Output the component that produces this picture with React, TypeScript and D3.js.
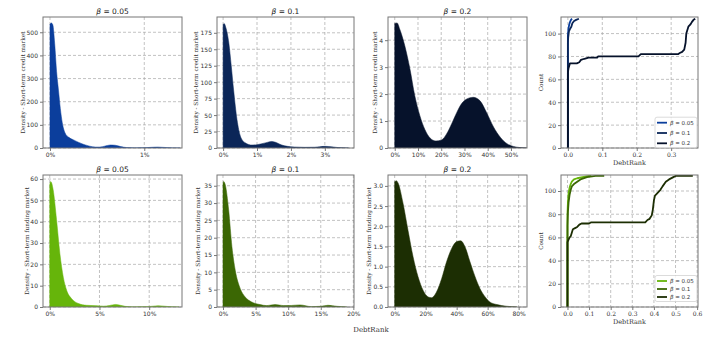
import React, { useRef, useEffect } from 'react';
import * as d3 from 'd3';

// density curves, x in % of DebtRank
const creditB005: [number, number][] = [[0, 535], [0.015, 540], [0.03, 532], [0.05, 450], [0.07, 330], [0.09, 250], [0.11, 170], [0.13, 110], [0.16, 65], [0.2, 46], [0.25, 35], [0.3, 25], [0.36, 15], [0.42, 8], [0.48, 4], [0.53, 4], [0.58, 8], [0.64, 13], [0.69, 12], [0.75, 6], [0.81, 2], [0.9, 0.5], [1.0, 1], [1.08, 3], [1.14, 4], [1.21, 2.5], [1.3, 0.5], [1.38, 0]];
const creditB01: [number, number][] = [[0, 187], [0.03, 189], [0.08, 183], [0.17, 159], [0.24, 125], [0.31, 88], [0.41, 43], [0.51, 18], [0.65, 8], [0.85, 4.5], [1.0, 5], [1.14, 6.5], [1.3, 8.5], [1.44, 10], [1.58, 8], [1.73, 4.5], [1.9, 2.5], [2.1, 1.5], [2.4, 1], [2.7, 1.2], [3.0, 2.5], [3.2, 1.8], [3.4, 0.6], [3.7, 0]];
const creditB02: [number, number][] = [[0, 4.62], [1, 4.64], [2.2, 4.4], [4.3, 3.8], [6.5, 2.95], [8.6, 1.95], [10.8, 1.2], [13, 0.68], [15.1, 0.38], [17.7, 0.26], [20.2, 0.3], [22.3, 0.52], [24.5, 0.9], [26.7, 1.32], [28.8, 1.65], [31, 1.82], [33.8, 1.88], [36.7, 1.75], [39.6, 1.3], [42.5, 0.78], [45.4, 0.4], [48.3, 0.16], [51, 0.06], [54, 0.015], [56.9, 0]];
const fundingB005: [number, number][] = [[0, 57.5], [0.1, 58.8], [0.34, 55], [0.68, 41], [1.02, 25], [1.36, 14], [1.7, 7.8], [2.2, 3.9], [2.9, 1.6], [3.7, 0.8], [4.8, 0.6], [5.4, 0.4], [6.0, 0.7], [6.6, 1.2], [7.1, 0.8], [7.6, 0.3], [8.5, 0.05], [9.5, 0.1], [10.4, 0.4], [10.9, 0.6], [11.5, 0.4], [12.2, 0.1], [13.0, 0]];
const fundingB01: [number, number][] = [[0, 35.5], [0.1, 36.2], [0.36, 35.2], [0.87, 28], [1.37, 17.4], [1.88, 10.6], [2.65, 5.3], [3.4, 2.9], [4.4, 1.45], [5.7, 0.7], [6.7, 0.4], [8, 0.7], [9.3, 0.4], [10.5, 0.45], [11.8, 0.6], [13.6, 0.1], [15, 0.2], [16.1, 0.5], [17.5, 0.2], [19, 0]];
const fundingB02: [number, number][] = [[0, 3.1], [1, 3.13], [2.2, 3.07], [5.4, 2.57], [8.6, 1.9], [11.9, 1.24], [15.1, 0.75], [18.4, 0.41], [21.6, 0.25], [23.8, 0.23], [27, 0.37], [30.3, 0.7], [33.5, 1.12], [36.8, 1.45], [40, 1.62], [42.6, 1.64], [45.4, 1.49], [48.6, 1.12], [51.9, 0.75], [55, 0.46], [58.4, 0.25], [61.6, 0.12], [66, 0.06], [72, 0.02], [79, 0]];

// cumulative counts (DebtRank, count)
const creditCum005: [number, number][] = [[0, 0], [0, 98], [0.001, 102], [0.002, 105], [0.004, 108], [0.006, 110], [0.009, 112], [0.012, 113]];
const creditCum01: [number, number][] = [[0, 0], [0, 92], [0.001, 97], [0.003, 102], [0.006, 104], [0.01, 106], [0.013, 109], [0.018, 111], [0.024, 112], [0.032, 113]];
const creditCum02: [number, number][] = [[0, 0], [0, 66], [0.002, 70], [0.004, 72], [0.006, 74], [0.026, 74], [0.033, 75], [0.038, 77], [0.048, 78], [0.06, 79], [0.085, 79], [0.088, 80], [0.205, 80], [0.212, 82], [0.32, 82], [0.325, 83], [0.332, 84], [0.338, 86], [0.342, 92], [0.344, 100], [0.35, 106], [0.356, 108], [0.36, 110], [0.365, 112], [0.37, 113]];
const fundingCum005: [number, number][] = [[0, 0], [0, 80], [0.002, 90], [0.005, 98], [0.01, 103], [0.015, 106], [0.02, 108], [0.03, 110], [0.045, 111], [0.07, 112], [0.1, 113], [0.11, 113]];
const fundingCum01: [number, number][] = [[0, 0], [0, 70], [0.002, 82], [0.005, 90], [0.01, 97], [0.015, 101], [0.02, 104], [0.03, 106], [0.045, 108], [0.06, 110], [0.09, 112], [0.13, 113], [0.17, 113]];
const fundingCum02: [number, number][] = [[0, 0], [0, 56], [0.005, 58], [0.01, 60], [0.015, 61], [0.02, 64], [0.025, 67], [0.035, 68], [0.045, 69], [0.055, 71], [0.065, 72], [0.1, 72], [0.11, 73], [0.36, 73], [0.37, 75], [0.38, 76], [0.39, 79], [0.395, 84], [0.4, 92], [0.405, 96], [0.415, 98], [0.43, 101], [0.44, 104], [0.455, 108], [0.47, 110], [0.49, 112], [0.5, 113], [0.58, 113]];

const betas = ['0.05', '0.1', '0.2'];
const blues = ['#0b3e9c', '#0b2658', '#06122b'];
const greens = ['#66b50a', '#3b6704', '#1c2e03'];

type Panel = {
  col: number; row: number;
  xDom: [number, number]; yDom: [number, number];
  xTicks: number[]; yTicks: number[];
  xFmt: (d: number) => string; yFmt: (d: number) => string;
  title?: string; ylabel: string; ylabelX: number;
  density?: [number, number][]; color?: string;
  cum?: [number, number][][]; colors?: string[];
  legendY?: number; legendStep?: number;
};

const pct = (d: number) => `${d}%`;
const num = (d: number) => `${d}`;
const one = d3.format('.1f');

const panels: Panel[] = [
  { col: 0, row: 0, xDom: [-0.074, 1.4], yDom: [0, 566], xTicks: [0, 1], yTicks: d3.range(0, 501, 100), xFmt: pct, yFmt: num, title: betas[0], ylabel: 'Density - Short-term credit market', ylabelX: 23, density: creditB005, color: blues[0] },
  { col: 1, row: 0, xDom: [-0.18, 3.86], yDom: [0, 199], xTicks: [0, 1, 2, 3], yTicks: d3.range(0, 176, 25), xFmt: pct, yFmt: num, title: betas[1], ylabel: 'Density - Short-term credit market', ylabelX: 196, density: creditB01, color: blues[1] },
  { col: 2, row: 0, xDom: [-2.9, 56.9], yDom: [0, 4.86], xTicks: d3.range(0, 51, 10), yTicks: [0, 1, 2, 3, 4], xFmt: pct, yFmt: num, title: betas[2], ylabel: 'Density - Short-term credit market', ylabelX: 375, density: creditB02, color: blues[2] },
  { col: 3, row: 0, xDom: [-0.02, 0.378], yDom: [0, 114.5], xTicks: [0, 0.1, 0.2, 0.3], yTicks: d3.range(0, 101, 20), xFmt: one, yFmt: num, ylabel: 'Count', ylabelX: 541, cum: [creditCum005, creditCum01, creditCum02], colors: blues, legendY: 122.7, legendStep: 10.3 },
  { col: 0, row: 1, xDom: [-0.68, 13.3], yDom: [0, 61.9], xTicks: [0, 5, 10], yTicks: d3.range(0, 61, 10), xFmt: pct, yFmt: num, title: betas[0], ylabel: 'Density - Short-term funding market', ylabelX: 27, density: fundingB005, color: greens[0] },
  { col: 1, row: 1, xDom: [-0.92, 20.1], yDom: [0, 38.1], xTicks: d3.range(0, 21, 5), yTicks: d3.range(0, 36, 5), xFmt: pct, yFmt: num, title: betas[1], ylabel: 'Density - Short-term funding market', ylabelX: 198, density: fundingB01, color: greens[1] },
  { col: 2, row: 1, xDom: [-4.3, 85.4], yDom: [0, 3.27], xTicks: d3.range(0, 81, 20), yTicks: d3.range(0, 3.01, 0.5), xFmt: pct, yFmt: one, title: betas[2], ylabel: 'Density - Short-term funding market', ylabelX: 369, density: fundingB02, color: greens[2] },
  { col: 3, row: 1, xDom: [-0.03, 0.604], yDom: [0, 113.8], xTicks: d3.range(0, 0.61, 0.1), yTicks: d3.range(0, 101, 20), xFmt: one, yFmt: num, ylabel: 'Count', ylabelX: 541, cum: [fundingCum005, fundingCum01, fundingCum02], colors: greens, legendY: 281, legendStep: 8 },
];

const cols: [number, number][] = [[43, 182], [217, 354], [388, 527], [561, 698]];
const rows: [number, number][] = [[17, 148], [175, 307]];

const App: React.FC = () => {
  const svgRef = useRef<SVGSVGElement>(null);

  useEffect(() => {
    if (!svgRef.current) return;
    const svg = d3.select(svgRef.current);
    svg.selectAll('*').remove();
    svg.append('rect').attr('width', 714).attr('height', 357).attr('fill', '#fff');

    const sans = 'DejaVu Sans, sans-serif';
    const serif = 'DejaVu Serif, serif';

    panels.forEach((p, pi) => {
      const [x0, x1] = cols[p.col];
      const [y0, y1] = rows[p.row];
      const x = d3.scaleLinear().domain(p.xDom).range([x0, x1]);
      const y = d3.scaleLinear().domain(p.yDom).range([y1, y0]);
      const g = svg.append('g');
      const tickFont = p.cum ? serif : sans;

      // grid
      g.selectAll('.gx').data(p.xTicks).enter().append('line')
        .attr('x1', d => x(d)).attr('x2', d => x(d)).attr('y1', y0).attr('y2', y1)
        .attr('stroke', '#a8a8a8').attr('stroke-width', 0.7).attr('stroke-dasharray', '3,2');
      g.selectAll('.gy').data(p.yTicks).enter().append('line')
        .attr('x1', x0).attr('x2', x1).attr('y1', d => y(d)).attr('y2', d => y(d))
        .attr('stroke', '#a8a8a8').attr('stroke-width', 0.7).attr('stroke-dasharray', '3,2');

      const clipId = `clip${pi}`;
      svg.append('clipPath').attr('id', clipId).append('rect')
        .attr('x', x0).attr('y', y0).attr('width', x1 - x0).attr('height', y1 - y0);
      const plot = g.append('g').attr('clip-path', `url(#${clipId})`);

      if (p.density) {
        const area = d3.area<[number, number]>()
          .x(d => x(d[0])).y0(y(0)).y1(d => y(d[1]))
          .curve(d3.curveMonotoneX);
        plot.append('path').datum(p.density).attr('d', area)
          .attr('fill', p.color!).attr('stroke', p.color!).attr('stroke-width', 0.5);
      }
      if (p.cum) {
        const line = d3.line<[number, number]>().x(d => x(d[0])).y(d => y(d[1]));
        p.cum.forEach((s, i) => {
          plot.append('path').datum(s).attr('d', line)
            .attr('fill', 'none').attr('stroke', p.colors![i]).attr('stroke-width', 1.8)
            .attr('stroke-linejoin', 'round');
        });
      }

      // axes
      const ax = g.append('g').attr('transform', `translate(0,${y1})`)
        .call(d3.axisBottom(x).tickValues(p.xTicks).tickFormat(d => p.xFmt(+d)).tickSize(3).tickPadding(2));
      const ay = g.append('g').attr('transform', `translate(${x0},0)`)
        .call(d3.axisLeft(y).tickValues(p.yTicks).tickFormat(d => p.yFmt(+d)).tickSize(3).tickPadding(2));
      [ax, ay].forEach(a => {
        a.select('.domain').remove();
        a.selectAll('line').attr('stroke', '#555').attr('stroke-width', 0.8);
        a.selectAll('text').attr('fill', '#333').attr('font-size', '6px').attr('font-family', tickFont);
      });

      // spines
      g.append('rect').attr('x', x0).attr('y', y0).attr('width', x1 - x0).attr('height', y1 - y0)
        .attr('fill', 'none').attr('stroke', '#777').attr('stroke-width', 1);

      // title
      if (p.title) {
        const t = g.append('text').attr('x', (x0 + x1) / 2).attr('y', y0 - 3.5)
          .attr('text-anchor', 'middle').attr('font-size', '7.5px').attr('font-family', sans).attr('fill', '#222');
        t.append('tspan').attr('font-style', 'italic').text('β');
        t.append('tspan').text(` = ${p.title}`);
      }

      // y label
      g.append('text')
        .attr('transform', `translate(${p.ylabelX},${(y0 + y1) / 2}) rotate(-90)`)
        .attr('text-anchor', 'middle').attr('dominant-baseline', 'middle')
        .attr('font-size', '5.8px').attr('font-family', serif).attr('fill', '#333')
        .text(p.ylabel);

      if (p.cum) {
        g.append('text').attr('x', (x0 + x1) / 2).attr('y', y1 + 17)
          .attr('text-anchor', 'middle').attr('font-size', '6.5px').attr('font-family', serif).attr('fill', '#333')
          .text('DebtRank');

        // legend
        const lx = 655, ly = p.legendY! - 5.5, lh = p.legendStep! * 2 + 10;
        g.append('rect').attr('x', lx).attr('y', ly).attr('width', 42).attr('height', lh).attr('rx', 2)
          .attr('fill', 'rgba(255,255,255,0.85)').attr('stroke', '#ccc').attr('stroke-width', 0.7);
        betas.forEach((b, i) => {
          const yy = p.legendY! + i * p.legendStep!;
          g.append('line').attr('x1', lx + 2).attr('x2', lx + 12).attr('y1', yy).attr('y2', yy)
            .attr('stroke', p.colors![i]).attr('stroke-width', 1.8);
          const t = g.append('text').attr('x', lx + 15).attr('y', yy).attr('dominant-baseline', 'middle')
            .attr('font-size', '5.5px').attr('font-family', sans).attr('fill', '#333');
          t.append('tspan').attr('font-style', 'italic').text('β');
          t.append('tspan').text(` = ${b}`);
        });
      }
    });

    svg.append('text').attr('x', 371).attr('y', 331.5).attr('text-anchor', 'middle')
      .attr('font-size', '7px').attr('font-family', serif).attr('fill', '#333').text('DebtRank');
  }, []);

  return (
    <svg ref={svgRef} width={714} height={357}
      style={{ position: 'absolute', left: 0, top: 0, display: 'block' }} />
  );
};

export default App;
